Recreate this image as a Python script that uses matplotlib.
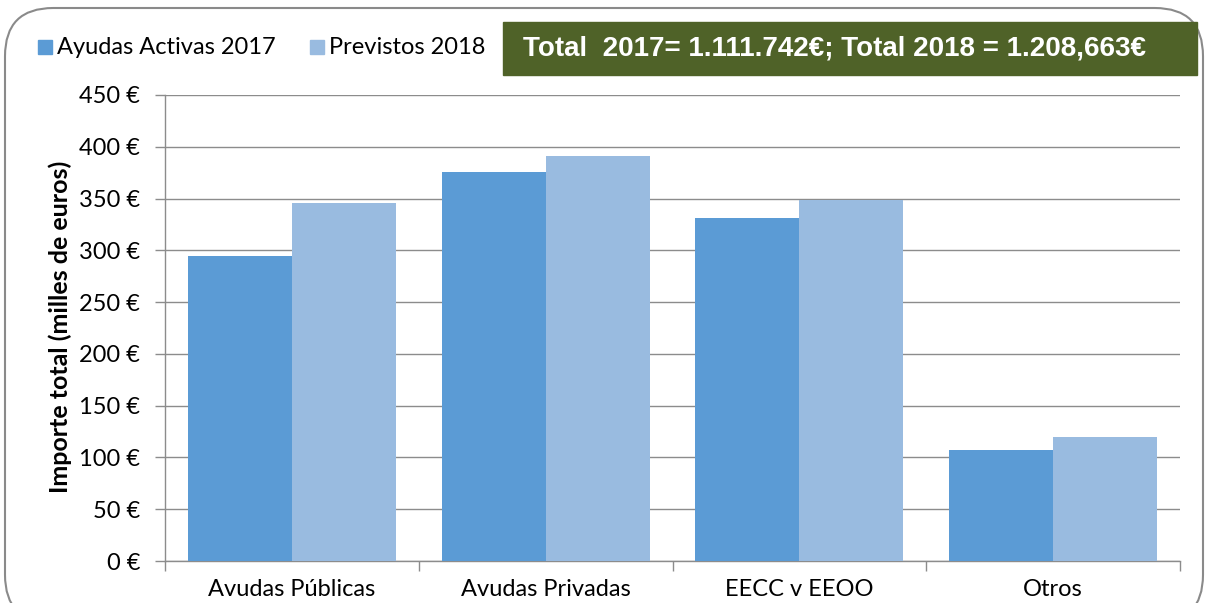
import numpy as np
from matplotlib import pyplot as plt
from matplotlib.patches import FancyBboxPatch, Rectangle

# data
categories = ["Avudas Públicas", "Avudas Privadas", "EECC v EEOO", "Otros"]
activas_2017 = [295, 376, 331, 107]
previstos_2018 = [346, 391, 349, 120]
y_ticks = [0, 50, 100, 150, 200, 250, 300, 350, 400, 450]
series_names = ["Ayudas Activas 2017", "Previstos 2018"]
banner = "Total  2017= 1.111.742€; Total 2018 = 1.208,663€"

c2017 = "#5B9BD5"
c2018 = "#99BBE0"
grid_c = "#8C8C8C"

plt.rcParams["font.family"] = ["Lato", "DejaVu Sans"]

fig = plt.figure(figsize=(12.05, 6.03), dpi=100)
ax = fig.add_axes([165 / 1205, 1 - 561 / 603, (1180 - 165) / 1205, (561 - 95) / 603])

x = np.arange(len(categories))
w = 0.41
ax.bar(x - w / 2, activas_2017, w, color=c2017, zorder=3)
ax.bar(x + w / 2, previstos_2018, w, color=c2018, zorder=3)

ax.set_xlim(-0.5, len(categories) - 0.5)
ax.set_ylim(0, 450)
ax.set_yticks(y_ticks)
ax.set_yticklabels([f"{v} €" for v in y_ticks], fontsize=17)
ax.yaxis.grid(True, color=grid_c, lw=1)
ax.set_axisbelow(True)

# boundaries as major ticks, labels on minor ticks
ax.set_xticks(np.arange(len(categories) + 1) - 0.5)
ax.set_xticklabels([])
ax.set_xticks(x, minor=True)
ax.set_xticklabels(categories, minor=True, fontsize=17)
ax.tick_params(axis="x", which="major", length=7, color=grid_c, width=1)
ax.tick_params(axis="x", which="minor", length=0, pad=13)
ax.tick_params(axis="y", length=7, color=grid_c, width=1, pad=11)

for s in ["top", "right"]:
    ax.spines[s].set_visible(False)
for s in ["left", "bottom"]:
    ax.spines[s].set_color(grid_c)
    ax.spines[s].set_linewidth(1)

fig.text(60 / 1205, 1 - 327 / 603, "Importe total (milles de euros)", rotation=90,
         ha="center", va="center", fontsize=18, fontweight="bold")

# legend drawn by hand as in the original
for px, label, col in [(38, series_names[0], c2017), (310, series_names[1], c2018)]:
    fig.patches.append(Rectangle((px / 1205, 1 - 54 / 603), 14 / 1205, 14 / 603,
                                 transform=fig.transFigure, color=col))
    fig.text((px + 19) / 1205, 1 - 47 / 603, label, ha="left", va="center", fontsize=17)

# green banner
fig.patches.append(Rectangle((503 / 1205, 1 - 75 / 603), 694 / 1205, 53 / 603,
                             transform=fig.transFigure, color="#4F6228", zorder=2))
fig.text(523 / 1205, 1 - 48 / 603, banner, ha="left", va="center", fontsize=20,
         fontweight="bold", color="white", family="Liberation Sans", zorder=3)

# rounded chart border
fig.patches.append(FancyBboxPatch((5 / 1205, -20 / 603), 1198 / 1205, 615 / 603,
                                  boxstyle="round,pad=0,rounding_size=0.04",
                                  transform=fig.transFigure, fill=False,
                                  ec="#8A8A8A", lw=1.5, mutation_aspect=2.0))

fig.savefig("out.png", dpi=100)
